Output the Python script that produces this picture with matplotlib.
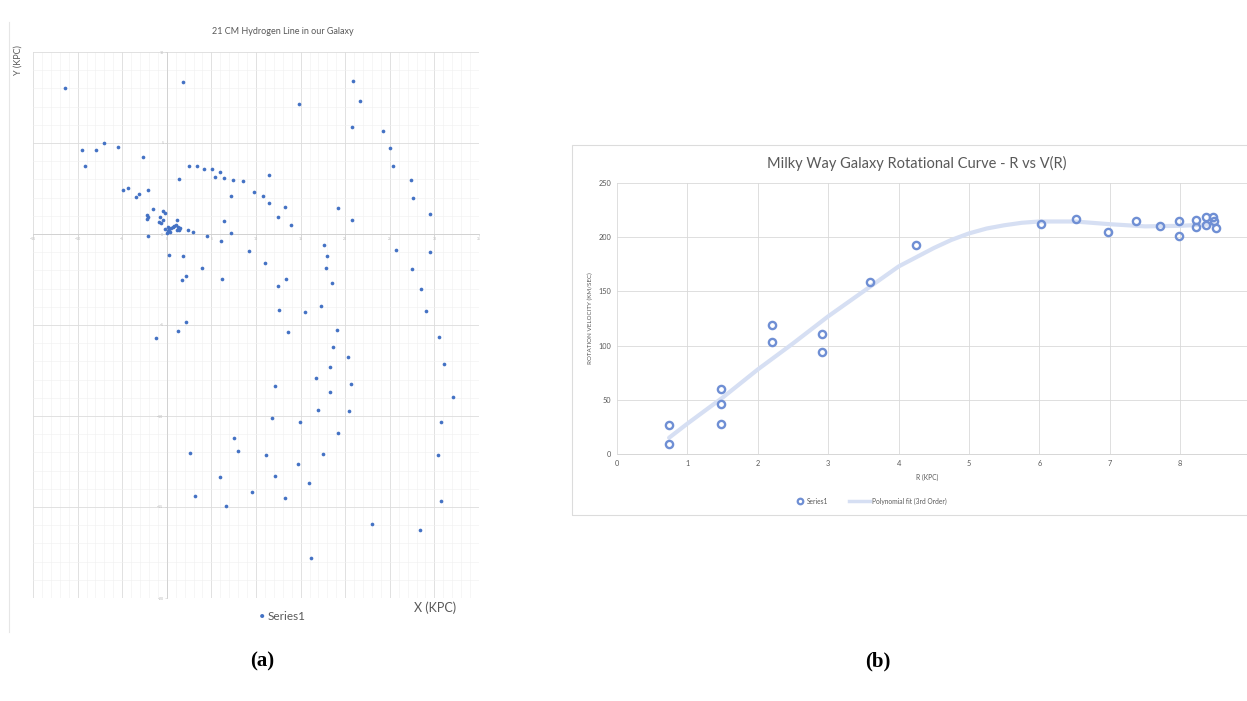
import numpy as np
import matplotlib
matplotlib.use("Agg")
from matplotlib import pyplot as plt
from matplotlib.ticker import MultipleLocator, AutoMinorLocator
from matplotlib.patches import Rectangle
from matplotlib.lines import Line2D

plt.rcParams["font.family"] = ["Lato", "DejaVu Sans"]

# ---- panel (a): 21 cm hydrogen line map (x, y in kpc) ----
map_x = [-11.46, 1.83, 14.85, 20.9, 21.64, 20.71, 24.29, 25.0, 25.34, 27.35, 27.61, 29.55, 19.22, 20.75,
         -9.51, -7.91, -7.05, -5.49, -9.22, -2.72, -4.93, -4.33, -3.40, -3.10, -2.13, -1.53, -2.24, -2.13,
         -2.24, -0.45, -0.22, -0.75, -0.93, -0.63, -0.37, -2.09,
         -0.15, 0.0, 0.11, 0.30, 0.49, 0.67, 0.86, 1.04, 1.12, 1.23, 1.42, 1.53, 1.16, 1.34, 0.19, 0.34,
         2.35, 2.95, 4.51, 6.04, 7.20, 6.42,
         2.5, 3.40, 4.14, 5.11, 5.93, 5.45, 6.46, 7.39, 8.54, 1.34, 7.20, 9.81, 10.82, 11.49, 11.49, 13.25,
         12.43, 13.92,
         0.30, 1.87, 3.99, 1.75, 2.20, 6.23, 9.22, 11.01, 12.50, 13.36, 12.54, 15.52, 17.28, 13.62, 17.65,
         17.99, 17.87, 18.54, 19.03, 18.58, 18.32, 20.30, 16.68, 20.67, 18.25, 16.90, 20.41, 12.09, 11.79,
         14.96, 19.14, 17.46, 11.08, 14.74, 12.09, 15.97, 13.21, 9.55, 7.57, 8.02, 2.65, 5.93, 3.21, 6.64,
         16.19, 23.02, 28.43, 25.67, 29.48, 27.50, 28.54, 29.10, 30.52, 31.04, 32.05, 30.75, 30.45, 30.71,
         2.20, 1.23, -1.23]
map_y = [8.04, 8.33, 7.13, 8.43, 7.33, 5.87, 5.65, 4.72, 3.74, 2.98, 2.0, 1.09, 1.41, 0.76,
         4.61, 4.61, 4.98, 4.76, 3.74, 4.22, 2.41, 2.54, 2.02, 2.22, 2.41, 1.39, 1.07, 0.93,
         0.80, 1.24, 1.15, 0.93, 0.65, 0.61, 0.76, -0.11,
         0.26, 0.07, 0.17, 0.28, 0.35, 0.41, 0.46, 0.50, 0.78, 0.39, 0.28, 0.33, 0.22, 0.20, 0.37, 0.11,
         0.20, 0.13, -0.11, -0.39, 0.04, 0.72,
         3.74, 3.72, 3.57, 3.59, 3.41, 3.13, 3.09, 2.98, 2.89, 3.0, 2.07, 2.30, 2.07, 1.72, 3.26, 1.46,
         0.91, 0.52,
         -1.15, -1.22, -1.85, -2.54, -2.30, -2.46, -0.96, -1.57, -2.87, -2.46, -4.17, -4.30, -3.96, -5.41, -0.59,
         -1.22, -1.89, -2.67, -5.30, -6.22, -7.33, -6.78, -7.93, -8.26, -8.67, -9.65, -9.72, -8.35, -10.09,
         -10.35, -10.93, -12.09, -12.17, -12.63, -13.28, -13.67, -14.50, -14.17, -11.22, -11.91, -12.02, -13.35, -14.39, -14.96,
         -17.78, -15.96, -16.26, -0.87, -1.0, -1.91, -3.02, -4.22, -5.67, -7.17, -8.98, -10.33, -12.17, -14.65,
         -4.85, -5.35, -5.70]

# ---- panel (b): rotation curve ----
r_kpc = [0.74, 0.74, 1.48, 1.48, 1.48, 2.20, 2.20, 2.91, 2.91, 3.60, 4.25, 6.02, 6.52, 6.97, 7.37,
         7.71, 7.99, 7.99, 8.22, 8.22, 8.37, 8.37, 8.47, 8.48, 8.51]
v_kms = [9.2, 26.7, 28.0, 46.0, 60.0, 103.0, 119.0, 93.7, 111.0, 158.5, 193.0, 212.0, 217.0, 205.0, 215.0,
         210.7, 215.0, 201.5, 216.0, 209.0, 219.0, 211.6, 218.7, 215.0, 208.5]
# trend line
fit_r = [0.74, 1.0, 1.5, 2.0, 2.5, 3.0, 3.5, 4.0, 4.5, 4.75, 5.0, 5.25, 5.5, 5.75, 6.0, 6.5, 7.0, 7.5, 8.0, 8.5]
fit_v = [15.0, 28.0, 52.0, 78.0, 102.0, 127.0, 150.0, 173.0, 190.0, 197.5, 203.5, 208.0, 211.0, 213.3,
         214.5, 214.5, 212.0, 210.0, 210.5, 212.0]
r_ticks = [0, 1, 2, 3, 4, 5, 6, 7, 8]

W, H = 1247, 701
fig = plt.figure(figsize=(W / 100, H / 100), dpi=100)

grey = "#595959"

# ================= panel (a) =================
ax1 = fig.add_axes([33 / W, 1 - 598 / H, (479 - 33) / W, (598 - 52) / H])
ax1.set_xlim(-15, 35)
ax1.set_ylim(-20, 10)
ax1.xaxis.set_major_locator(MultipleLocator(5))
ax1.yaxis.set_major_locator(MultipleLocator(5))
ax1.xaxis.set_minor_locator(AutoMinorLocator(5))
ax1.yaxis.set_minor_locator(AutoMinorLocator(5))
ax1.grid(which="major", color="#dcdcdc", lw=0.6)
ax1.grid(which="minor", color="#f0f0f0", lw=0.4)
ax1.set_axisbelow(True)
for s in ["top", "right"]:
    ax1.spines[s].set_visible(False)
ax1.spines["left"].set_position(("data", 0))
ax1.spines["bottom"].set_position(("data", 0))
ax1.spines["left"].set_color("#d0d0d0")
ax1.spines["bottom"].set_color("#d0d0d0")
ax1.spines["left"].set_linewidth(0.6)
ax1.spines["bottom"].set_linewidth(0.6)
ax1.tick_params(which="major", length=1.5, width=0.4, color="#cfcfcf", labelsize=2.5,
                labelcolor="#b5b5b5", pad=1)
ax1.tick_params(which="minor", length=0)
ax1.scatter(map_x, map_y, s=7, color="#4472C4", linewidths=0, zorder=3)

fig.text(283 / W, 1 - 31 / H, "21 CM Hydrogen Line in our Galaxy", ha="center", va="center",
         fontsize=6.5, color=grey)
fig.text(18 / W, 1 - 60 / H, "Y (KPC)", ha="center", va="center", rotation=90, fontsize=6.5, color=grey)
fig.text(435 / W, 1 - 608 / H, "X (KPC)", ha="center", va="center", fontsize=9, color=grey)
fig.text(262 / W, 1 - 617 / H, "\u2022", ha="center", va="center", fontsize=8, color="#4472C4")
fig.text(268 / W, 1 - 617 / H, "Series1", ha="left", va="center", fontsize=8.5, color=grey)
fig.add_artist(Line2D([9 / W, 9 / W], [1 - 22 / H, 1 - 632 / H], color="#e6e6e6", lw=0.8))

# ================= panel (b) =================
fig.add_artist(Rectangle((572 / W, 1 - 515 / H), (W + 10 - 572) / W, (515 - 145) / H,
                         fill=False, edgecolor="#dcdcdc", lw=0.8))
x0, x9 = 617, 617 + 9 * 70.4
ax2 = fig.add_axes([x0 / W, 1 - 454 / H, (x9 - x0) / W, (454 - 183) / H])
ax2.set_xlim(0, 9)
ax2.set_ylim(0, 250)
ax2.set_xticks(r_ticks)
ax2.xaxis.set_minor_locator(MultipleLocator(1))
ax2.yaxis.set_major_locator(MultipleLocator(50))
ax2.grid(which="both", axis="x", color="#d9d9d9", lw=0.6)
ax2.grid(which="major", axis="y", color="#d9d9d9", lw=0.6)
ax2.set_axisbelow(True)
for s in ["top", "right", "left"]:
    ax2.spines[s].set_visible(False)
ax2.spines["bottom"].set_color("#d0d0d0")
ax2.spines["bottom"].set_linewidth(0.6)
ax2.tick_params(which="both", length=0, labelsize=5.3, labelcolor=grey, pad=4)

ax2.plot(fit_r, fit_v, color="#d6dff3", lw=3, solid_capstyle="round", solid_joinstyle="round", zorder=2)
ax2.plot(r_kpc, v_kms, ls="none", marker="o", ms=5.2, mfc="none", mec="#6f8fd4", mew=1.7, zorder=3)

fig.text(917 / W, 1 - 163 / H, "Milky Way Galaxy Rotational Curve - R vs V(R)", ha="center", va="center",
         fontsize=10.5, color=grey)
fig.text(590 / W, 1 - 318 / H, "ROTATION VELOCITY (KM/SEC)", ha="center", va="center", rotation=90,
         fontsize=4.5, color=grey)
fig.text(927 / W, 1 - 477 / H, "R (KPC)", ha="center", va="center", fontsize=4.8, color=grey)

leg_y = 1 - 501 / H
fig.add_artist(Line2D([800 / W], [leg_y], ls="none", marker="o", ms=4, mfc="none", mec="#6f8fd4", mew=1.6))
fig.text(807 / W, leg_y, "Series1", ha="left", va="center", fontsize=4.8, color=grey)
fig.add_artist(Line2D([849 / W, 870 / W], [leg_y, leg_y], color="#d6dff3", lw=2.5))
fig.text(872 / W, leg_y, "Polynomial fit (3rd Order)", ha="left", va="center", fontsize=4.8, color=grey)

# ---- panel captions ----
fig.text(262 / W, 1 - 661 / H, "(a)", ha="center", va="center", fontsize=15, fontweight="bold",
         family="Liberation Serif")
fig.text(878 / W, 1 - 661 / H, "(b)", ha="center", va="center", fontsize=15, fontweight="bold",
         family="Liberation Serif")

fig.savefig("out.png", dpi=100)
